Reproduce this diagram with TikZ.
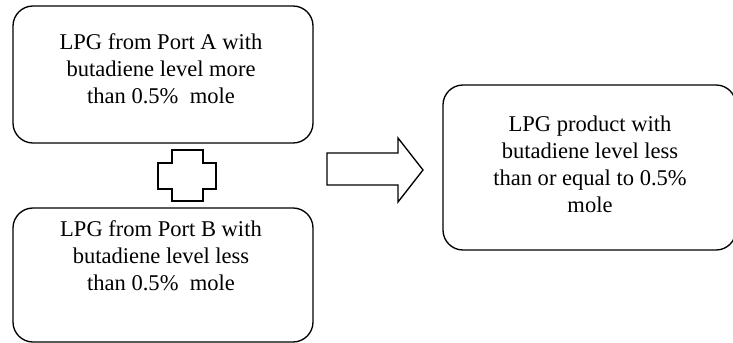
\documentclass[tikz,border=0pt]{standalone}
\usepackage{fontspec}
\setmainfont{Liberation Serif}
\begin{document}
\begin{tikzpicture}[x=0.75pt,y=-0.75pt,
  boxshape/.style={draw=black,line width=1pt,rounded corners=15pt,inner sep=0pt},
  boxtext/.style={anchor=base,align=center,inner sep=0pt,font=\fontsize{16.9pt}{20.1pt}\selectfont},
  shapeline/.style={draw=black,line width=1pt,line join=miter}]
\useasboundingbox (0,0) rectangle (733,343);
\clip (0,0) rectangle (733,343);
% Box A
\node[boxshape,minimum width=300*0.75pt,minimum height=137*0.75pt] (boxA) at (163,74.5) {};
\node[boxtext] (textA) at (161,103) {LPG from Port A with\\butadiene level more\\than 0.5\%\ \ mole};
% Box B
\node[boxshape,minimum width=300*0.75pt,minimum height=134*0.75pt] (boxB) at (163,275) {};
\node[boxtext] (textB) at (161,290) {LPG from Port B with\\butadiene level less\\than 0.5\%\ \ mole};
% Box C
\node[boxshape,minimum width=293*0.75pt,minimum height=165*0.75pt] (boxC) at (589.5,167.5) {};
\node[boxtext] (textC) at (590,212) {LPG product with\\butadiene level less\\than or equal to 0.5\%\\mole};
% plus sign
\coordinate (plus) at (187,175.5);
\draw[shapeline] (172,150) -- (203,150) -- (203,163) -- (216,163) -- (216,189) -- (203,189)
  -- (203,201) -- (172,201) -- (172,189) -- (158,189) -- (158,163) -- (172,163) -- cycle;
% block arrow
\coordinate (arrowtip) at (423,170);
\draw[shapeline] (327,153) -- (398,153) -- (398,138) -- (arrowtip) -- (398,202) -- (398,185) -- (327,185) -- cycle;
\end{tikzpicture}
\end{document}
